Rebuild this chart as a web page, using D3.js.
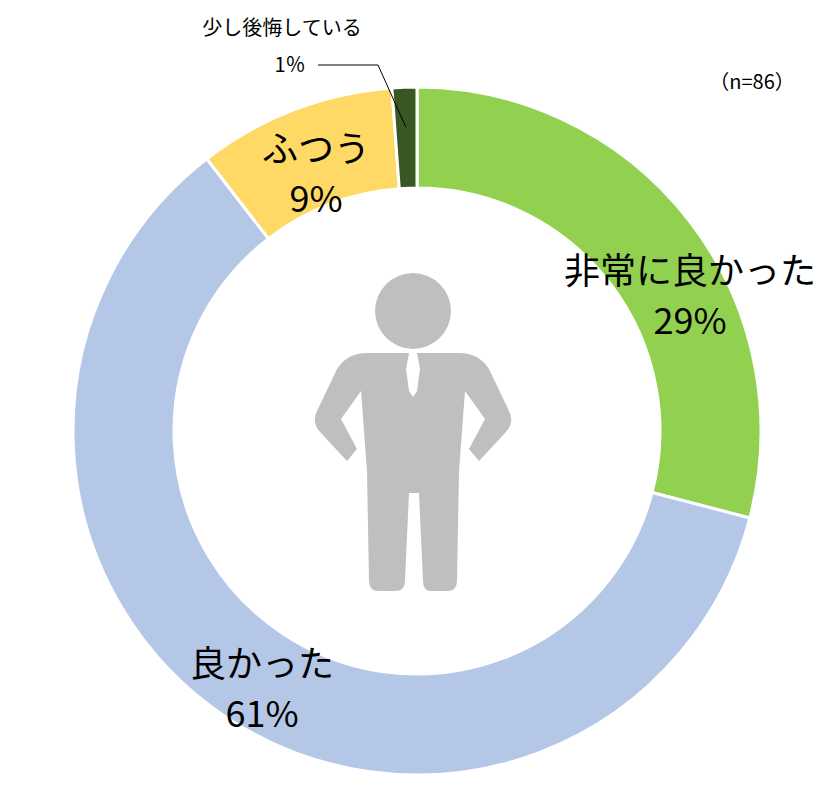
<!DOCTYPE html>
<html><head><meta charset="utf-8">
<script src="https://cdn.jsdelivr.net/npm/d3@7/dist/d3.min.js"></script>
<style>body{margin:0;background:#fff}text{font-family:"Noto Sans CJK JP","Noto Sans",sans-serif}</style>
</head><body>
<svg id="c" width="835" height="800"></svg>
<script>
// answers (n=86), clockwise from 12 o'clock
var categories = ["非常に良かった", "良かった", "ふつう", "少し後悔している"];
var counts = [25, 52, 8, 1];
var percentLabels = ["29%", "61%", "9%", "1％"];
var colors = ["#92d050", "#b4c7e7", "#ffd966", "#385723"];

var svg = d3.select("#c");
var cx = 417, cy = 431, rOut = 344, rIn = 243;
var g = svg.append("g").attr("transform", "translate(" + cx + "," + cy + ")");

var pie = d3.pie().sort(null).value(function(d) { return d; });
var arc = d3.arc().innerRadius(rIn).outerRadius(rOut);
var arcs = pie(counts);

g.selectAll("path.slice").data(arcs).enter().append("path")
    .attr("class", "slice")
    .attr("d", arc)
    .attr("fill", function(d, i) { return colors[i]; })
    .attr("stroke", "#fff").attr("stroke-width", 3);

// person icon (decoration)
var icon = g.append("g").attr("fill", "#bfbfbf");
icon.append("circle").attr("cx", -4).attr("cy", -120).attr("r", 38);
icon.append("path").attr("d",
    "M-50,-78 L42,-78 Q62,-78 72,-62 L92,-20 Q98,-8 88,2 L62,30 L52,18 L68,-12 L48,-40 L42,40 L40,150 Q40,160 30,160 L14,160 Q6,160 6,150 L2,62 L-8,62 L-12,150 Q-12,160 -22,160 L-38,160 Q-48,160 -48,150 L-50,40 L-56,-40 L-76,-12 L-60,18 L-70,30 L-96,2 Q-106,-8 -100,-20 L-80,-62 Q-70,-78 -50,-78 Z");
// tie
g.append("path").attr("fill", "#fff").attr("d", "M-8,-78 L0,-78 L3,-62 L0,-40 L-4,-34 L-8,-40 L-11,-62 Z");

function label(x, y, lines, size) {
  var t = svg.append("text").attr("x", x).attr("y", y).attr("text-anchor", "middle")
      .attr("font-size", size).attr("fill", "#000");
  lines.forEach(function(l, i) {
    t.append("tspan").attr("x", x).attr("dy", i === 0 ? 0 : size * 1.38).text(l);
  });
}
label(690, 284, [categories[0], percentLabels[0]], 36);
label(262, 677, [categories[1], percentLabels[1]], 36);
label(316, 162, [categories[2], percentLabels[2]], 36);
label(282, 35, [categories[3]], 20);
svg.append("text").attr("x", 290).attr("y", 72).attr("text-anchor", "middle")
    .attr("font-size", 20).text(percentLabels[3]);
svg.append("text").attr("x", 752).attr("y", 89).attr("text-anchor", "middle")
    .attr("font-size", 20).text("（n=86）");

// leader line to the small slice
var a = arcs[3], mid = (a.startAngle + a.endAngle) / 2;
var px = cx + Math.sin(mid) * (rOut - 40), py = cy - Math.cos(mid) * (rOut - 40);
svg.append("polyline").attr("fill", "none").attr("stroke", "#000").attr("stroke-width", 1)
    .attr("points", "318,65 378,65 " + px + "," + py);
</script>
</body></html>
